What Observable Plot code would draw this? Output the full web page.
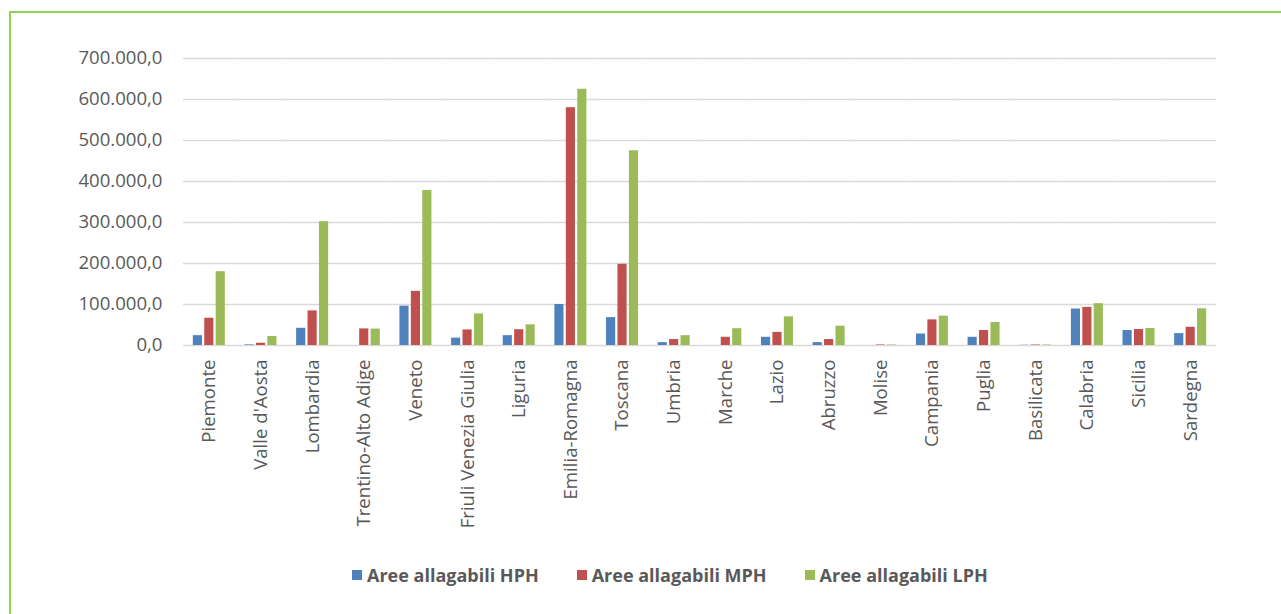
<!DOCTYPE html>
<html>
<head>
<meta charset="utf-8">
<script src="https://cdn.jsdelivr.net/npm/d3@7"></script>
<script src="https://cdn.jsdelivr.net/npm/@observablehq/plot@0.6"></script>
<style>
  html, body { margin: 0; padding: 0; background: #fff; overflow: hidden; width: 1281px; height: 614px; }
  #frame { position: absolute; left: 9px; top: 11px; width: 1400px; height: 700px;
           border-left: 2px solid #92d050; border-top: 2px solid #92d050; }
  #chart { position: absolute; left: 0; top: 0; }
  #legend { position: absolute; left: 352px; top: 563px; display: flex; align-items: center;
            font-family: "Open Sans", sans-serif; font-weight: 700; font-size: 18px; color: #595959; }
  .item { display: flex; align-items: center; margin-right: 38px; }
  .sw { width: 10px; height: 10px; margin-right: 5px; }
</style>
</head>
<body>
<div id="frame"></div>
<div id="chart"></div>
<div id="legend"></div>
<script>
const regions = ["Piemonte", "Valle d'Aosta", "Lombardia", "Trentino-Alto Adige", "Veneto",
  "Friuli Venezia Giulia", "Liguria", "Emilia-Romagna", "Toscana", "Umbria", "Marche", "Lazio",
  "Abruzzo", "Molise", "Campania", "Puglia", "Basilicata", "Calabria", "Sicilia", "Sardegna"];
const hph = [24000, 1500, 42000, 0, 96000, 18000, 24000, 100000, 68000, 7000, 0, 20000,
  7000, 0, 28000, 20000, 500, 89000, 36500, 29000];
const mph = [66500, 5500, 84500, 40500, 132000, 38000, 38500, 580000, 198000, 14500, 20000, 32000,
  14500, 1200, 62500, 36500, 1200, 93000, 39000, 44500];
const lph = [180000, 22000, 302000, 40000, 378000, 77000, 50500, 625000, 475000, 24000, 41000, 70000,
  47000, 1200, 71500, 56000, 1200, 102000, 41500, 89500];
const seriesNames = ["Aree allagabili HPH", "Aree allagabili MPH", "Aree allagabili LPH"];
const seriesColors = ["#4f81bd", "#c0504d", "#9bbb59"];
const yTicks = [0, 100000, 200000, 300000, 400000, 500000, 600000, 700000];

const values = [hph, mph, lph];
const table = regions.flatMap((r, i) => seriesNames.map((s, k) => ({region: r, series: s, value: values[k][i]})));

const itFormat = d3.formatLocale({decimal: ",", thousands: ".", grouping: [3], currency: ["", "€"]}).format(",.1f");

const chart = Plot.plot({
  width: 1281,
  height: 540,
  marginLeft: 183,
  marginRight: 65,
  marginTop: 58,
  marginBottom: 195,
  style: {fontFamily: "'Open Sans', sans-serif", fontSize: "18.6px", color: "#595959", background: "transparent"},
  fx: {domain: regions, padding: 0, round: false, label: null, tickRotate: -90, tickSize: 0, tickPadding: 14},
  x: {domain: seriesNames, paddingInner: 0.2, paddingOuter: 0.86, round: false, axis: null},
  y: {domain: [0, 700000], ticks: yTicks, tickFormat: itFormat, tickSize: 0, tickPadding: 21, label: null},
  color: {domain: seriesNames, range: seriesColors},
  marks: [
    Plot.gridY(yTicks, {stroke: "#d9d9d9", strokeOpacity: 1, strokeWidth: 1.5}),
    Plot.barY(table, {fx: "region", x: "series", y: "value", fill: "series"})
  ]
});
document.getElementById("chart").appendChild(chart);

const legend = document.getElementById("legend");
seriesNames.forEach((s, k) => {
  const it = document.createElement("div");
  it.className = "item";
  const sw = document.createElement("div");
  sw.className = "sw";
  sw.style.background = seriesColors[k];
  const t = document.createElement("span");
  t.textContent = s;
  it.appendChild(sw); it.appendChild(t);
  legend.appendChild(it);
});
</script>
</body>
</html>
